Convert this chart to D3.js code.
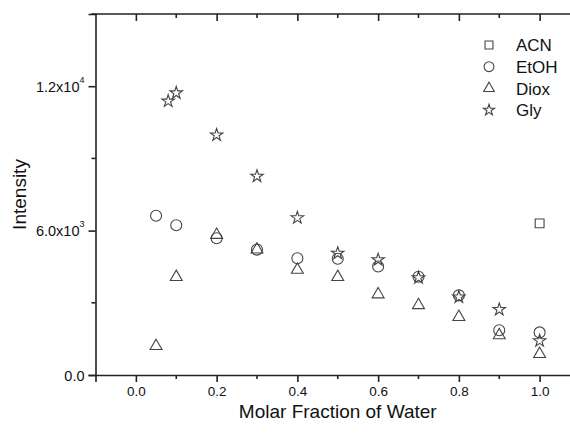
<!DOCTYPE html>
<html>
<head>
<meta charset="utf-8">
<script src="https://cdn.jsdelivr.net/npm/d3@7"></script>
<style>
  body { margin: 0; background: #fff; }
  text { font-family: "Liberation Sans", Arial, sans-serif; fill: #111; }
</style>
</head>
<body>
<script>
// data
var seriesNames = ["ACN", "EtOH", "Diox", "Gly"];
var acnX = [1.0];
var acnY = [6300];
var etohX = [0.05, 0.1, 0.2, 0.3, 0.4, 0.5, 0.6, 0.7, 0.8, 0.9, 1.0];
var etohY = [6620, 6220, 5680, 5210, 4850, 4830, 4510, 4080, 3310, 1860, 1770];
var dioxX = [0.05, 0.1, 0.2, 0.3, 0.4, 0.5, 0.6, 0.7, 0.8, 0.9, 1.0];
var dioxY = [1200, 4070, 5820, 5210, 4370, 4070, 3350, 2900, 2410, 1650, 870];
var glyX = [0.08, 0.1, 0.2, 0.3, 0.4, 0.5, 0.6, 0.7, 0.8, 0.9, 1.0];
var glyY = [11380, 11720, 9970, 8260, 6530, 5060, 4790, 4040, 3240, 2720, 1420];
var xTicks = [0.0, 0.2, 0.4, 0.6, 0.8, 1.0];
var yTicks = [0, 6000, 12000];
var yTickLabels = [["0.0", ""], ["6.0x10", "3"], ["1.2x10", "4"]];

var width = 570, height = 433;
var plotLeft = 95.5, plotTop = 14, plotRight = 580, plotBottom = 375;

var svg = d3.select("body").append("svg")
  .attr("width", width)
  .attr("height", height);

var x = d3.scaleLinear().domain([-0.1, 1.1]).range([plotLeft, plotRight]);
var y = d3.scaleLinear().domain([0, 15000]).range([plotBottom, plotTop]);

var axisColor = "#222";

// bottom axis with minor ticks
var xMinor = d3.range(-0.1, 1.11, 0.1).map(function (d) { return Math.round(d * 10) / 10; })
  .filter(function (d) { return xTicks.indexOf(d) < 0 && d > -0.1; });

var gx = svg.append("g")
  .attr("transform", "translate(0," + plotBottom + ")")
  .call(d3.axisBottom(x).tickValues(xTicks).tickSize(7).tickPadding(4)
    .tickFormat(d3.format(".1f")));
gx.append("g").selectAll("line").data(xMinor).enter().append("line")
  .attr("x1", function (d) { return x(d); }).attr("x2", function (d) { return x(d); })
  .attr("y1", 0).attr("y2", 4);

// top axis, ticks pointing in
var gt = svg.append("g")
  .attr("transform", "translate(0," + plotTop + ")")
  .call(d3.axisBottom(x).tickValues(xTicks).tickSize(7).tickFormat(""));
gt.append("g").selectAll("line").data(xMinor).enter().append("line")
  .attr("x1", function (d) { return x(d); }).attr("x2", function (d) { return x(d); })
  .attr("y1", 0).attr("y2", 4);

// left axis
var gy = svg.append("g")
  .attr("transform", "translate(" + plotLeft + ",0)")
  .call(d3.axisLeft(y).tickValues(yTicks).tickSize(7).tickPadding(5).tickFormat(""));
gy.append("g").selectAll("line").data([3000, 9000]).enter().append("line")
  .attr("y1", function (d) { return y(d); }).attr("y2", function (d) { return y(d); })
  .attr("x1", 0).attr("x2", -4);

[gx, gt, gy].forEach(function (g) {
  g.attr("font-size", 13.5).attr("font-family", "'Liberation Sans', Arial, sans-serif");
  g.select(".domain").attr("stroke", axisColor).attr("stroke-width", 1.6);
  g.selectAll("line").attr("stroke", axisColor).attr("stroke-width", 1.6);
  g.selectAll("text").attr("fill", "#111");
});
gt.select(".domain").attr("d", "M" + (plotLeft - 4) + ",0H" + plotRight);

// y tick labels with superscripts
var yl = gy.selectAll(".tick").append("text")
  .attr("x", -11)
  .attr("dy", "0.35em")
  .attr("text-anchor", "end")
  .attr("font-size", 14.5)
  .attr("fill", "#111");
yl.each(function (d) {
  var t = d3.select(this);
  var lab = yTickLabels[yTicks.indexOf(d)];
  t.append("tspan").text(lab[0]);
  if (lab[1] !== "") {
    t.append("tspan").attr("font-size", 9).attr("dy", "-1em").text(lab[1]);
  }
});

// axis titles
svg.append("text")
  .attr("x", (plotLeft + plotRight) / 2)
  .attr("y", 418)
  .attr("text-anchor", "middle")
  .attr("font-size", 19)
  .text("Molar Fraction of Water");

svg.append("text")
  .attr("transform", "translate(26," + ((plotTop + plotBottom) / 2) + ") rotate(-90)")
  .attr("text-anchor", "middle")
  .attr("font-size", 19)
  .text("Intensity");

// markers
var symbols = [d3.symbolSquare, d3.symbolCircle, d3.symbolTriangle, d3.symbolStar];
var sizes = [78, 95, 62, 48];
var allX = [acnX, etohX, dioxX, glyX];
var allY = [acnY, etohY, dioxY, glyY];
var markColor = "#444";

for (var s = 0; s < seriesNames.length; s++) {
  var pts = allX[s].map(function (v, i) { return {x: v, y: allY[s][i]}; });
  var sym = d3.symbol().type(symbols[s]).size(sizes[s]);
  svg.append("g").selectAll("path")
    .data(pts)
    .enter()
    .append("path")
    .attr("d", sym)
    .attr("transform", function (d) { return "translate(" + x(d.x) + "," + y(d.y) + ")"; })
    .attr("fill", "none")
    .attr("stroke", markColor)
    .attr("stroke-width", 1.1);
}

// legend
var legend = svg.append("g");
for (var k = 0; k < seriesNames.length; k++) {
  var ly = 45 + k * 21.7;
  legend.append("path")
    .attr("d", d3.symbol().type(symbols[k]).size(sizes[k] * 0.8))
    .attr("transform", "translate(489," + ly + ")")
    .attr("fill", "none")
    .attr("stroke", markColor)
    .attr("stroke-width", 1.1);
  legend.append("text")
    .attr("x", 516)
    .attr("y", ly)
    .attr("dy", "0.36em")
    .attr("font-size", 17)
    .text(seriesNames[k]);
}
</script>
</body>
</html>
